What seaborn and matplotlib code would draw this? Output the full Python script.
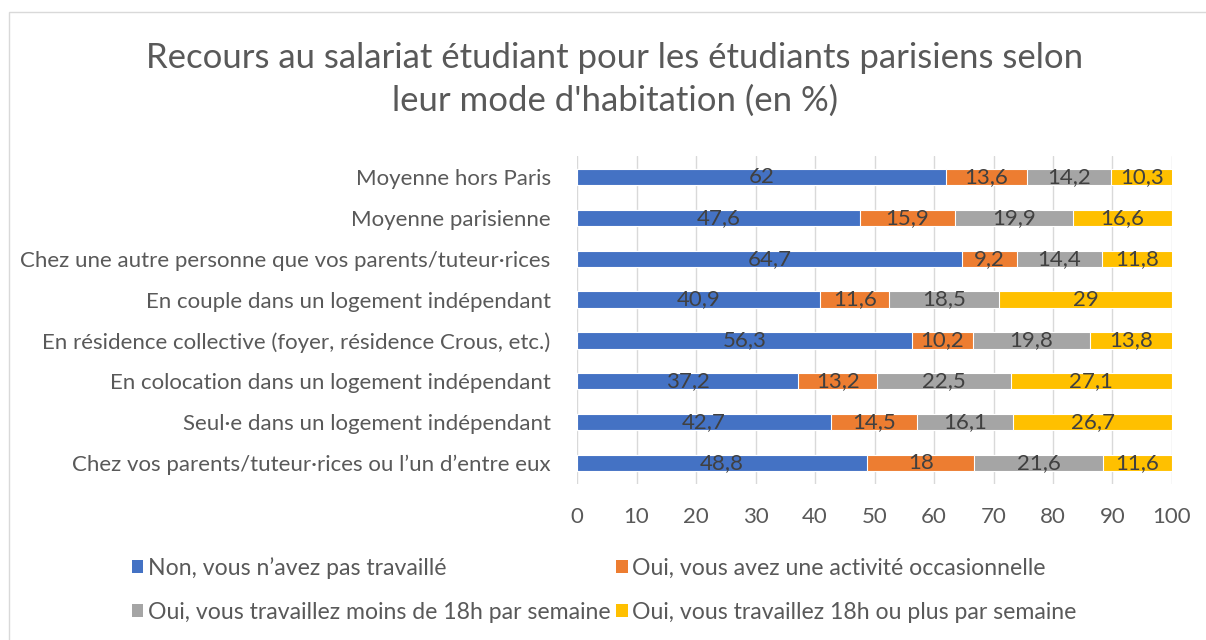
import pandas as pd
import matplotlib.pyplot as plt
import seaborn as sns
from matplotlib.patches import Patch, Rectangle

categories = [
    "Moyenne hors Paris",
    "Moyenne parisienne",
    "Chez une autre personne que vos parents/tuteur·rices",
    "En couple dans un logement indépendant",
    "En résidence collective (foyer, résidence Crous, etc.)",
    "En colocation dans un logement indépendant",
    "Seul·e dans un logement indépendant",
    "Chez vos parents/tuteur·rices ou l’un d’entre eux",
]
non_travail = [62, 47.6, 64.7, 40.9, 56.3, 37.2, 42.7, 48.8]
occasionnel = [13.6, 15.9, 9.2, 11.6, 10.2, 13.2, 14.5, 18]
moins_18h = [14.2, 19.9, 14.4, 18.5, 19.8, 22.5, 16.1, 21.6]
plus_18h = [10.3, 16.6, 11.8, 29, 13.8, 27.1, 26.7, 11.6]

series = ["Non, vous n’avez pas travaillé",
          "Oui, vous avez une activité occasionnelle",
          "Oui, vous travaillez moins de 18h par semaine",
          "Oui, vous travaillez 18h ou plus par semaine"]
couleurs = ["#4472C4", "#ED7D31", "#A5A5A5", "#FFC000"]

df = pd.DataFrame({"cat": categories, series[0]: non_travail, series[1]: occasionnel,
                   series[2]: moins_18h, series[3]: plus_18h})
cum = df[series].cumsum(axis=1)

sns.set_style("white")
plt.rcParams['font.family'] = ['Lato', 'DejaVu Sans']
gris_texte = "#595959"
taille = 16

fig = plt.figure(figsize=(12.06, 6.4), dpi=100)
ax = fig.add_axes([0.4785, 0.2445, 0.4933, 0.511])

# barres empilées : on dessine les cumuls du plus grand au plus petit
for s, c in reversed(list(zip(series, couleurs))):
    sns.barplot(x=cum[s], y=df["cat"], color=c, saturation=1, width=0.4, orient="h",
                edgecolor="white", linewidth=0.8, ax=ax, zorder=3)

for i, s in enumerate(series):
    for j in range(len(df)):
        v = df[s].iloc[j]
        centre = cum[s].iloc[j] - v / 2
        txt = ("%g" % v).replace(".", ",")
        ax.text(centre, j, txt, ha="center", va="center", fontsize=taille,
                color="#404040", zorder=5)

ax.set_xlim(0, 100)
ax.set_xticks(range(0, 101, 10))
ax.set_xlabel("")
ax.set_ylabel("")
ax.grid(axis="x", color="#D9D9D9", linewidth=1, zorder=0)
for sp in ax.spines.values():
    sp.set_visible(False)
ax.tick_params(axis="both", length=0, labelsize=taille, labelcolor=gris_texte)
ax.tick_params(axis="y", pad=19)
ax.tick_params(axis="x", pad=17)

fig.suptitle("Recours au salariat étudiant pour les étudiants parisiens selon\nleur mode d'habitation (en %)",
             x=0.51, y=0.935, fontsize=25, color=gris_texte, linespacing=1.42)

# légende remplie ligne par ligne comme dans Excel
ordre = [0, 2, 1, 3]
handles = [Patch(facecolor=couleurs[k], edgecolor="none") for k in ordre]
labels = [series[k] for k in ordre]
fig.legend(handles, labels, ncol=2, loc="center left", bbox_to_anchor=(0.092, 0.078),
           frameon=False, fontsize=16.6, labelcolor=gris_texte, handlelength=0.5,
           handleheight=0.5, handletextpad=0.2, columnspacing=0.25, labelspacing=1.0)

fig.patches.append(Rectangle((9 / 1206, -0.1), 1.2, 1 - 12 / 640 + 0.1,
                             transform=fig.transFigure, fill=False,
                             edgecolor="#D9D9D9", linewidth=1))

fig.savefig("out.png", dpi=100)
